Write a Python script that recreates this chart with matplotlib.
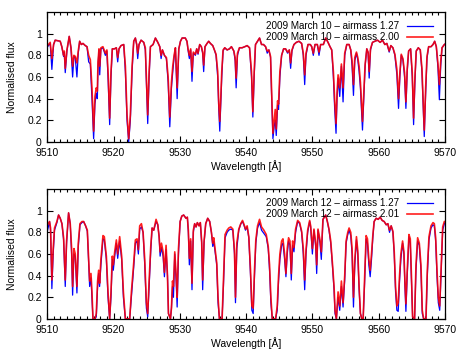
import matplotlib
matplotlib.use("Agg")
import matplotlib.pyplot as plt
from matplotlib.ticker import MultipleLocator

plt.rcParams['font.family'] = ['Liberation Sans', 'DejaVu Sans']

# ---------------- Top panel (2009 March 10) ----------------
wl_top = [
    9510.05, 9510.45, 9510.7, 9510.96, 9511.2, 9511.56, 9511.96, 9512.2, 9512.47, 9512.57,
    9512.72, 9512.97, 9513.32, 9513.58, 9513.83, 9514.03, 9514.23, 9514.48, 9514.68, 9514.89,
    9515.14, 9515.39, 9515.74, 9516.0, 9516.25, 9516.5, 9516.75, 9517.0, 9517.2, 9517.4,
    9517.56, 9517.66, 9517.81, 9517.92, 9518.1, 9518.4, 9518.77, 9519.0, 9519.2, 9519.42,
    9519.62, 9519.82, 9520.13, 9520.43, 9520.63, 9520.83, 9521.13, 9521.54, 9521.79, 9522.04,
    9522.29, 9522.54, 9522.8, 9523.05, 9523.3, 9523.5, 9523.65, 9523.85, 9524.16, 9524.56,
    9524.8, 9524.96, 9525.16, 9525.37, 9525.57, 9525.97, 9526.32, 9526.68, 9526.98, 9527.18,
    9527.38, 9527.68, 9527.98, 9528.24, 9528.49, 9528.74, 9528.94, 9529.14, 9529.34, 9529.6,
    9529.85, 9530.1, 9530.35, 9530.83, 9531.08, 9531.24, 9531.44, 9531.64, 9531.84, 9532.04,
    9532.35, 9532.55, 9532.75, 9533.0, 9533.25, 9533.45, 9533.6, 9533.8, 9534.11, 9534.36,
    9534.62, 9534.97, 9535.22, 9535.47, 9535.72, 9535.88, 9536.03, 9536.18, 9536.33, 9536.53,
    9536.78, 9537.14, 9537.49, 9537.79, 9538.15, 9538.35, 9538.5, 9538.7, 9539.0, 9539.4,
    9539.81, 9540.16, 9540.52, 9540.82, 9541.02, 9541.22, 9541.42, 9541.73, 9542.03, 9542.33,
    9542.63, 9542.94, 9543.19, 9543.44, 9543.69, 9543.84, 9544.05, 9544.25, 9544.4, 9544.55,
    9544.75, 9544.9, 9545.1, 9545.36, 9545.66, 9545.96, 9546.26, 9546.52, 9546.72, 9546.92,
    9547.22, 9547.58, 9547.98, 9548.38, 9548.63, 9548.84, 9549.04, 9549.34, 9549.69, 9549.9,
    9550.14, 9550.4, 9550.75, 9551.0, 9551.25, 9551.66, 9552.01, 9552.36, 9552.66, 9552.92,
    9553.17, 9553.37, 9553.57, 9553.72, 9553.88, 9554.13, 9554.38, 9554.63, 9554.88, 9555.19,
    9555.54, 9555.79, 9555.99, 9556.2, 9556.4, 9556.65, 9556.85, 9557.05, 9557.25, 9557.56,
    9557.76, 9557.96, 9558.21, 9558.41, 9558.57, 9558.77, 9559.07, 9559.42, 9559.83, 9560.23,
    9560.58, 9560.93, 9561.24, 9561.59, 9561.84, 9562.15, 9562.45, 9562.75, 9563.0, 9563.2,
    9563.41, 9563.66, 9563.91, 9564.11, 9564.31, 9564.52, 9564.82, 9565.07, 9565.27, 9565.47,
    9565.67, 9565.98, 9566.28, 9566.53, 9566.73, 9566.88, 9567.09, 9567.29, 9567.54, 9567.9,
    9568.2, 9568.45, 9568.7, 9568.95, 9569.16, 9569.36, 9569.56, 9569.91, 9570.16,
]
flux_top_am127 = [
    0.88, 0.91, 0.67, 0.90, 0.94, 0.935, 0.93, 0.88, 0.79, 0.83,
    0.64, 0.84, 0.975, 0.87, 0.60, 0.79, 0.78, 0.60, 0.82, 0.93,
    0.90, 0.91, 0.89, 0.88, 0.74, 0.72, 0.40, 0.03, 0.35, 0.45,
    0.40, 0.70, 0.85, 0.62, 0.86, 0.87, 0.80, 0.84, 0.55, 0.16,
    0.60, 0.86, 0.86, 0.87, 0.74, 0.86, 0.89, 0.90, 0.65, 0.20,
    0.00, 0.20, 0.65, 0.93, 0.96, 0.90, 0.77, 0.90, 0.94, 0.92,
    0.85, 0.55, 0.17, 0.60, 0.88, 0.90, 0.96, 0.92, 0.88, 0.77,
    0.85, 0.80, 0.77, 0.55, 0.14, 0.50, 0.65, 0.78, 0.87, 0.40,
    0.86, 0.93, 0.96, 0.96, 0.93, 0.85, 0.77, 0.85, 0.56, 0.82,
    0.80, 0.86, 0.81, 0.90, 0.88, 0.82, 0.65, 0.88, 0.91, 0.93,
    0.91, 0.89, 0.85, 0.80, 0.60, 0.30, 0.10, 0.35, 0.60, 0.84,
    0.87, 0.85, 0.86, 0.88, 0.84, 0.75, 0.50, 0.80, 0.87, 0.87,
    0.88, 0.89, 0.87, 0.60, 0.23, 0.60, 0.90, 0.93, 0.96, 0.90,
    0.90, 0.88, 0.82, 0.85, 0.78, 0.45, 0.03, 0.15, 0.20, 0.06,
    0.34, 0.30, 0.60, 0.80, 0.86, 0.86, 0.82, 0.85, 0.68, 0.84,
    0.90, 0.92, 0.93, 0.91, 0.80, 0.53, 0.80, 0.90, 0.90, 0.88,
    0.80, 0.90, 0.90, 0.80, 0.90, 0.90, 0.96, 0.92, 0.88, 0.85,
    0.60, 0.30, 0.08, 0.40, 0.59, 0.42, 0.70, 0.37, 0.80, 0.90,
    0.90, 0.85, 0.70, 0.43, 0.75, 0.82, 0.76, 0.65, 0.50, 0.11,
    0.40, 0.70, 0.86, 0.82, 0.59, 0.85, 0.92, 0.93, 0.94, 0.92,
    0.94, 0.90, 0.91, 0.83, 0.89, 0.87, 0.80, 0.62, 0.31, 0.60,
    0.80, 0.76, 0.60, 0.31, 0.65, 0.84, 0.86, 0.60, 0.16, 0.55,
    0.84, 0.87, 0.85, 0.65, 0.30, 0.05, 0.45, 0.77, 0.88, 0.88,
    0.90, 0.93, 0.88, 0.68, 0.39, 0.70, 0.87, 0.90, 0.91,
]
flux_top_am200 = [
    0.89, 0.92, 0.77, 0.90, 0.94, 0.935, 0.93, 0.88, 0.80, 0.84,
    0.68, 0.85, 0.975, 0.87, 0.70, 0.80, 0.79, 0.73, 0.84, 0.93,
    0.90, 0.91, 0.89, 0.88, 0.80, 0.76, 0.50, 0.10, 0.42, 0.50,
    0.47, 0.74, 0.86, 0.70, 0.87, 0.88, 0.82, 0.85, 0.62, 0.22,
    0.65, 0.86, 0.86, 0.87, 0.78, 0.86, 0.89, 0.90, 0.70, 0.25,
    0.03, 0.25, 0.70, 0.93, 0.96, 0.90, 0.82, 0.90, 0.94, 0.92,
    0.87, 0.60, 0.25, 0.65, 0.88, 0.90, 0.96, 0.92, 0.88, 0.80,
    0.85, 0.80, 0.78, 0.60, 0.23, 0.55, 0.70, 0.80, 0.87, 0.50,
    0.86, 0.93, 0.96, 0.96, 0.93, 0.86, 0.80, 0.86, 0.65, 0.83,
    0.81, 0.86, 0.82, 0.90, 0.88, 0.83, 0.71, 0.88, 0.91, 0.93,
    0.91, 0.89, 0.85, 0.81, 0.65, 0.35, 0.19, 0.40, 0.65, 0.85,
    0.87, 0.85, 0.86, 0.88, 0.84, 0.78, 0.59, 0.82, 0.87, 0.87,
    0.88, 0.89, 0.87, 0.65, 0.28, 0.65, 0.90, 0.93, 0.96, 0.90,
    0.90, 0.88, 0.84, 0.85, 0.79, 0.50, 0.08, 0.20, 0.30, 0.12,
    0.38, 0.35, 0.65, 0.80, 0.86, 0.86, 0.83, 0.85, 0.73, 0.85,
    0.90, 0.92, 0.93, 0.91, 0.82, 0.62, 0.82, 0.90, 0.90, 0.88,
    0.82, 0.90, 0.90, 0.83, 0.90, 0.90, 0.96, 0.92, 0.88, 0.85,
    0.65, 0.38, 0.17, 0.45, 0.62, 0.50, 0.72, 0.50, 0.82, 0.90,
    0.90, 0.85, 0.75, 0.53, 0.78, 0.83, 0.78, 0.70, 0.55, 0.19,
    0.45, 0.72, 0.86, 0.83, 0.65, 0.86, 0.92, 0.93, 0.94, 0.92,
    0.94, 0.90, 0.91, 0.84, 0.89, 0.87, 0.81, 0.67, 0.40, 0.64,
    0.81, 0.77, 0.64, 0.37, 0.68, 0.84, 0.86, 0.64, 0.22, 0.60,
    0.84, 0.87, 0.85, 0.68, 0.35, 0.11, 0.50, 0.79, 0.88, 0.88,
    0.90, 0.93, 0.88, 0.72, 0.53, 0.74, 0.87, 0.90, 0.91,
]

# ---------------- Bottom panel (2009 March 12) ----------------
wl_bot = [
    9510.05, 9510.35, 9510.5, 9510.7, 9510.9, 9511.1, 9511.46, 9511.71, 9511.96, 9512.22,
    9512.47, 9512.72, 9512.92, 9513.22, 9513.47, 9513.68, 9513.83, 9514.03, 9514.23, 9514.48,
    9514.68, 9514.94, 9515.24, 9515.49, 9515.79, 9516.05, 9516.25, 9516.4, 9516.6, 9516.75,
    9516.9, 9517.2, 9517.4, 9517.6, 9517.76, 9517.9, 9518.1, 9518.41, 9518.61, 9518.92,
    9519.17, 9519.42, 9519.62, 9519.82, 9519.97, 9520.18, 9520.43, 9520.63, 9520.93, 9521.23,
    9521.49, 9521.79, 9522.44, 9522.7, 9523.05, 9523.3, 9523.55, 9523.75, 9523.95, 9524.21,
    9524.46, 9524.71, 9524.96, 9525.16, 9525.37, 9525.62, 9525.82, 9526.07, 9526.42, 9526.68,
    9526.88, 9527.03, 9527.23, 9527.48, 9527.68, 9527.93, 9528.14, 9528.29, 9528.59, 9528.74,
    9528.9, 9529.04, 9529.24, 9529.45, 9529.6, 9529.8, 9530.05, 9530.3, 9530.58, 9530.93,
    9531.14, 9531.29, 9531.44, 9531.64, 9531.84, 9532.04, 9532.24, 9532.45, 9532.65, 9532.9,
    9533.1, 9533.3, 9533.45, 9533.66, 9533.91, 9534.21, 9534.51, 9534.77, 9534.97, 9535.12,
    9535.32, 9535.57, 9535.77, 9535.98, 9536.38, 9536.58, 9536.83, 9537.14, 9537.39, 9537.69,
    9538.0, 9538.25, 9538.4, 9538.6, 9538.9, 9539.2, 9539.46, 9539.71, 9539.91, 9540.16,
    9540.41, 9540.67, 9540.87, 9541.07, 9541.27, 9541.47, 9541.73, 9542.03, 9542.33, 9542.68,
    9543.04, 9543.34, 9543.54, 9543.74, 9543.95, 9544.45, 9544.7, 9544.9, 9545.1, 9545.36,
    9545.56, 9545.81, 9546.01, 9546.21, 9546.41, 9546.62, 9546.82, 9547.02, 9547.22, 9547.47,
    9547.78, 9548.08, 9548.38, 9548.63, 9548.84, 9549.04, 9549.29, 9549.59, 9549.74, 9550.0,
    9550.24, 9550.5, 9550.65, 9550.85, 9551.15, 9551.35, 9551.6, 9552.01, 9552.26, 9552.51,
    9552.77, 9553.02, 9553.27, 9553.42, 9553.62, 9553.88, 9554.13, 9554.38, 9554.63, 9554.88,
    9555.09, 9555.34, 9555.54, 9555.79, 9555.99, 9556.2, 9556.4, 9556.65, 9556.85, 9557.05,
    9557.25, 9557.46, 9557.66, 9557.86, 9558.11, 9558.31, 9558.52, 9558.72, 9558.92, 9559.12,
    9559.32, 9559.62, 9559.93, 9560.23, 9560.53, 9560.83, 9561.14, 9561.39, 9561.64, 9561.89,
    9562.15, 9562.35, 9562.55, 9562.75, 9562.95, 9563.15, 9563.35, 9563.61, 9563.81, 9563.96,
    9564.11, 9564.31, 9564.57, 9564.77, 9564.97, 9565.12, 9565.42, 9565.63, 9565.88, 9566.13,
    9566.38, 9566.58, 9566.79, 9567.14, 9567.34, 9567.59, 9567.9, 9568.2, 9568.4, 9568.6,
    9568.8, 9569.0, 9569.21, 9569.41, 9569.66, 9569.91, 9570.16,
]
flux_bot_am127 = [
    0.82, 0.90, 0.82, 0.28, 0.60, 0.82, 0.89, 0.96, 0.93, 0.88,
    0.73, 0.30, 0.70, 0.98, 0.88, 0.60, 0.22, 0.60, 0.58, 0.24,
    0.66, 0.87, 0.89, 0.90, 0.86, 0.81, 0.52, 0.30, 0.38, 0.20,
    0.00, 0.00, 0.02, 0.30, 0.42, 0.30, 0.50, 0.74, 0.73, 0.55,
    0.20, 0.00, 0.20, 0.55, 0.45, 0.58, 0.70, 0.56, 0.72, 0.55,
    0.20, 0.00, 0.00, 0.20, 0.48, 0.70, 0.72, 0.60, 0.83, 0.85,
    0.80, 0.50, 0.10, 0.02, 0.30, 0.63, 0.84, 0.82, 0.90, 0.87,
    0.76, 0.58, 0.66, 0.58, 0.39, 0.64, 0.40, 0.05, 0.00, 0.10,
    0.30, 0.20, 0.60, 0.35, 0.11, 0.60, 0.90, 0.95, 0.96, 0.93,
    0.94, 0.80, 0.50, 0.72, 0.27, 0.80, 0.88, 0.85, 0.89, 0.86,
    0.89, 0.70, 0.27, 0.70, 0.88, 0.93, 0.90, 0.80, 0.67, 0.72,
    0.62, 0.50, 0.15, 0.00, 0.00, 0.30, 0.75, 0.80, 0.82, 0.83,
    0.82, 0.60, 0.15, 0.65, 0.82, 0.88, 0.90, 0.86, 0.82, 0.85,
    0.75, 0.40, 0.08, 0.05, 0.40, 0.70, 0.84, 0.89, 0.82, 0.79,
    0.76, 0.65, 0.45, 0.15, 0.00, 0.00, 0.08, 0.35, 0.55, 0.68,
    0.70, 0.55, 0.39, 0.60, 0.72, 0.68, 0.36, 0.68, 0.62, 0.80,
    0.90, 0.88, 0.80, 0.60, 0.27, 0.60, 0.80, 0.90, 0.85, 0.60,
    0.82, 0.67, 0.42, 0.82, 0.70, 0.55, 0.92, 0.96, 0.90, 0.82,
    0.70, 0.50, 0.27, 0.05, 0.00, 0.20, 0.08, 0.30, 0.11, 0.36,
    0.70, 0.78, 0.82, 0.77, 0.60, 0.11, 0.50, 0.73, 0.60, 0.27,
    0.05, 0.00, 0.00, 0.30, 0.74, 0.70, 0.50, 0.39, 0.55, 0.75,
    0.90, 0.93, 0.92, 0.94, 0.91, 0.90, 0.87, 0.88, 0.80, 0.86,
    0.80, 0.60, 0.25, 0.08, 0.07, 0.35, 0.55, 0.70, 0.60, 0.30,
    0.07, 0.40, 0.76, 0.70, 0.30, 0.02, 0.00, 0.45, 0.72, 0.68,
    0.45, 0.05, 0.00, 0.00, 0.40, 0.73, 0.84, 0.87, 0.86, 0.72,
    0.40, 0.15, 0.08, 0.40, 0.82, 0.88, 0.90,
]
flux_bot_am201 = [
    0.87, 0.90, 0.84, 0.36, 0.65, 0.84, 0.90, 0.96, 0.93, 0.88,
    0.75, 0.36, 0.72, 0.98, 0.88, 0.65, 0.30, 0.65, 0.60, 0.30,
    0.70, 0.88, 0.90, 0.90, 0.86, 0.82, 0.55, 0.35, 0.42, 0.25,
    0.00, 0.00, 0.05, 0.35, 0.45, 0.33, 0.55, 0.77, 0.76, 0.58,
    0.25, 0.00, 0.25, 0.58, 0.50, 0.62, 0.73, 0.60, 0.76, 0.58,
    0.25, 0.00, 0.00, 0.25, 0.52, 0.73, 0.74, 0.64, 0.86, 0.88,
    0.80, 0.55, 0.15, 0.05, 0.35, 0.67, 0.84, 0.82, 0.92, 0.87,
    0.76, 0.62, 0.70, 0.62, 0.43, 0.68, 0.40, 0.05, 0.00, 0.10,
    0.35, 0.30, 0.62, 0.40, 0.20, 0.65, 0.90, 0.95, 0.96, 0.93,
    0.94, 0.82, 0.56, 0.74, 0.33, 0.82, 0.88, 0.85, 0.89, 0.86,
    0.89, 0.72, 0.36, 0.72, 0.88, 0.93, 0.90, 0.80, 0.70, 0.75,
    0.65, 0.52, 0.20, 0.00, 0.00, 0.35, 0.78, 0.82, 0.84, 0.85,
    0.83, 0.63, 0.20, 0.70, 0.83, 0.88, 0.91, 0.87, 0.83, 0.86,
    0.76, 0.45, 0.12, 0.10, 0.45, 0.73, 0.86, 0.92, 0.85, 0.82,
    0.78, 0.67, 0.50, 0.20, 0.00, 0.00, 0.12, 0.40, 0.60, 0.72,
    0.74, 0.60, 0.42, 0.65, 0.75, 0.72, 0.42, 0.72, 0.66, 0.83,
    0.91, 0.89, 0.81, 0.65, 0.36, 0.64, 0.82, 0.91, 0.86, 0.65,
    0.83, 0.70, 0.50, 0.83, 0.73, 0.62, 0.92, 0.96, 0.90, 0.83,
    0.72, 0.52, 0.30, 0.08, 0.00, 0.25, 0.12, 0.35, 0.15, 0.40,
    0.72, 0.80, 0.84, 0.80, 0.65, 0.20, 0.55, 0.76, 0.63, 0.30,
    0.05, 0.00, 0.00, 0.35, 0.77, 0.74, 0.55, 0.45, 0.60, 0.77,
    0.90, 0.93, 0.92, 0.94, 0.91, 0.90, 0.87, 0.88, 0.82, 0.86,
    0.81, 0.62, 0.30, 0.12, 0.15, 0.40, 0.60, 0.72, 0.62, 0.35,
    0.14, 0.45, 0.78, 0.74, 0.35, 0.02, 0.00, 0.50, 0.75, 0.70,
    0.50, 0.08, 0.00, 0.00, 0.45, 0.76, 0.86, 0.89, 0.88, 0.75,
    0.45, 0.20, 0.12, 0.45, 0.85, 0.90, 0.90,
]

labels_top = ["2009 March 10 \u2013 airmass 1.27", "2009 March 10 \u2013 airmass 2.00"]
labels_bot = ["2009 March 12 \u2013 airmass 1.27", "2009 March 12 \u2013 airmass 2.01"]
x_ticks = [9510, 9520, 9530, 9540, 9550, 9560, 9570]
y_ticks = [0, 0.2, 0.4, 0.6, 0.8, 1]
y_ticklabels = ["0", "0.2", "0.4", "0.6", "0.8", "1"]

FS = 7.5
FS_LEG = 7.1
fig = plt.figure(figsize=(4.63, 3.54), dpi=100)
ax_top = fig.add_axes([0.102, 0.599, 0.859, 0.367])
ax_bot = fig.add_axes([0.102, 0.099, 0.859, 0.367])

panels = [
    (ax_top, wl_top, flux_top_am127, flux_top_am200, labels_top),
    (ax_bot, wl_bot, flux_bot_am127, flux_bot_am201, labels_bot),
]
for ax, wl, f1, f2, labs in panels:
    ax.plot(wl, f1, color='#0000ff', lw=0.9, label=labs[0])
    ax.plot(wl, f2, color='#ff0000', lw=1.2, alpha=0.88, label=labs[1])
    ax.set_xlim(9510, 9570)
    ax.set_ylim(0, 1.2)
    ax.set_xticks(x_ticks)
    ax.set_xticklabels([str(t) for t in x_ticks])
    ax.set_yticks(y_ticks)
    ax.set_yticklabels(y_ticklabels)
    ax.xaxis.set_minor_locator(MultipleLocator(1))
    ax.tick_params(which='both', direction='in', top=True, right=True, labelsize=FS,
                   width=0.8, colors='black')
    ax.tick_params(which='major', length=4, pad=4)
    ax.tick_params(which='minor', length=2)
    for s in ax.spines.values():
        s.set_linewidth(0.9)
    ax.set_xlabel("Wavelength [\u00c5]", fontsize=FS, labelpad=2)
    ax.set_ylabel("Normalised flux", fontsize=FS, labelpad=7)
    ax.legend(loc='upper right', bbox_to_anchor=(0.97, 0.93), frameon=False,
              markerfirst=False, fontsize=FS_LEG, handlelength=2.6,
              handletextpad=0.8, labelspacing=0.12, borderaxespad=0.0, borderpad=0.0)

fig.savefig("out.png", dpi=100)
